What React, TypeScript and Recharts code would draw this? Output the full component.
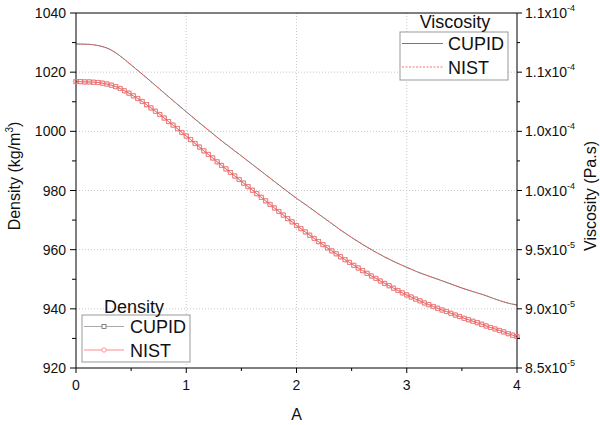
import React from "react";
import { LineChart, Line, XAxis, YAxis, CartesianGrid, ReferenceLine, Label } from "recharts";

const FONT = "'Liberation Sans', Arial, sans-serif";

// density curve (left axis), sampled densely -> markers
const densityA = [
    0, 0.04, 0.08, 0.12, 0.16, 0.2, 0.24, 0.28, 0.32, 0.36,
    0.4, 0.44, 0.48, 0.52, 0.56, 0.6, 0.64, 0.68, 0.72, 0.76,
    0.8, 0.84, 0.88, 0.92, 0.96, 1, 1.04, 1.08, 1.12, 1.16,
    1.2, 1.24, 1.28, 1.32, 1.36, 1.4, 1.44, 1.48, 1.52, 1.56,
    1.6, 1.64, 1.68, 1.72, 1.76, 1.8, 1.84, 1.88, 1.92, 1.96,
    2, 2.04, 2.08, 2.12, 2.16, 2.2, 2.24, 2.28, 2.32, 2.36,
    2.4, 2.44, 2.48, 2.52, 2.56, 2.6, 2.64, 2.68, 2.72, 2.76,
    2.8, 2.84, 2.88, 2.92, 2.96, 3, 3.04, 3.08, 3.12, 3.16,
    3.2, 3.24, 3.28, 3.32, 3.36, 3.4, 3.44, 3.48, 3.52, 3.56,
    3.6, 3.64, 3.68, 3.72, 3.76, 3.8, 3.84, 3.88, 3.92, 3.96,
    4,
];
const densityCupid = [
    1016.8, 1016.8, 1016.7, 1016.7, 1016.6, 1016.5, 1016.3, 1016.0, 1015.6, 1015.1,
    1014.5, 1013.7, 1012.9, 1012.0, 1011.1, 1010.1, 1009.0, 1007.9, 1006.8, 1005.7,
    1004.5, 1003.3, 1002.1, 1000.9, 999.6, 998.4, 997.2, 995.9, 994.7, 993.4,
    992.2, 991.0, 989.7, 988.5, 987.3, 986.1, 984.9, 983.7, 982.5, 981.3,
    980.1, 978.9, 977.7, 976.5, 975.3, 974.1, 972.9, 971.7, 970.5, 969.4,
    968.2, 967.1, 966.0, 964.9, 963.8, 962.7, 961.7, 960.6, 959.6, 958.6,
    957.6, 956.6, 955.7, 954.7, 953.8, 952.9, 952.0, 951.1, 950.3, 949.4,
    948.6, 947.8, 947.0, 946.2, 945.4, 944.7, 944.0, 943.3, 942.7, 942.0,
    941.4, 940.8, 940.2, 939.6, 939.1, 938.5, 937.9, 937.4, 936.8, 936.3,
    935.8, 935.3, 934.8, 934.2, 933.7, 933.2, 932.7, 932.2, 931.6, 931.1,
    930.6,
];
// NIST density sits right on top of CUPID in the plot
const densityNist = densityCupid;

// viscosity curve (right axis)
const viscosityA = [
    0, 0.1, 0.2, 0.3, 0.4, 0.5, 0.6, 0.7, 0.8, 0.9,
    1, 1.1, 1.2, 1.3, 1.4, 1.5, 1.6, 1.7, 1.8, 1.9,
    2, 2.1, 2.2, 2.3, 2.4, 2.5, 2.6, 2.7, 2.8, 2.9,
    3, 3.1, 3.2, 3.3, 3.4, 3.5, 3.6, 3.7, 3.8, 3.9,
    4,
];
const viscosityCupid = [
    11.238e-5, 11.236e-5, 11.225e-5, 11.196e-5, 11.137e-5, 11.061e-5, 10.984e-5, 10.904e-5, 10.824e-5, 10.744e-5,
    10.665e-5, 10.587e-5, 10.511e-5, 10.435e-5, 10.363e-5, 10.292e-5, 10.22e-5, 10.148e-5, 10.076e-5, 10.004e-5,
    9.934e-5, 9.869e-5, 9.801e-5, 9.734e-5, 9.666e-5, 9.603e-5, 9.544e-5, 9.489e-5, 9.438e-5, 9.392e-5,
    9.351e-5, 9.311e-5, 9.277e-5, 9.244e-5, 9.21e-5, 9.176e-5, 9.146e-5, 9.117e-5, 9.083e-5, 9.053e-5,
    9.032e-5,
];
const viscosityNist = viscosityCupid;

// ticks: majors on even indices, minors in between
const xTicks = [0, 0.5, 1, 1.5, 2, 2.5, 3, 3.5, 4];
const densityTicks = [920, 930, 940, 950, 960, 970, 980, 990, 1000, 1010, 1020, 1030, 1040];
const viscosityTicks = [
    8.5e-5, 8.75e-5, 9e-5, 9.25e-5, 9.5e-5, 9.75e-5, 1e-4,
    1.025e-4, 1.05e-4, 1.075e-4, 1.1e-4, 1.125e-4, 1.15e-4,
];
const viscosityTickText = ["8.5x10", "9.0x10", "9.5x10", "1.0x10", "1.0x10", "1.1x10", "1.1x10"];
const viscosityTickExp = ["-5", "-5", "-5", "-4", "-4", "-4", "-4"];

const densityData = densityA.map((a, i) => ({ a, cupid: densityCupid[i], nist: densityNist[i] }));
const viscosityData = viscosityA.map((a, i) => ({ a, cupid: viscosityCupid[i], nist: viscosityNist[i] }));

function BottomTick({ x, y, payload, index }: any) {
    const major = index % 2 === 0;
    return (
        <g>
            <line x1={x} x2={x} y1={y} y2={y + (major ? 5 : 3)} stroke="#000" />
            {major && (
                <text x={x} y={y + 22} textAnchor="middle" fontSize={14} fontFamily={FONT} fill="#111">
                    {payload.value}
                </text>
            )}
        </g>
    );
}

function LeftTick({ x, y, payload, index }: any) {
    const major = index % 2 === 0;
    return (
        <g>
            <line x1={x - (major ? 6 : 4)} x2={x} y1={y} y2={y} stroke="#000" />
            {major && (
                <text x={x - 10} y={y + 5} textAnchor="end" fontSize={14} fontFamily={FONT} fill="#111">
                    {payload.value}
                </text>
            )}
        </g>
    );
}

function RightTick({ x, y, index }: any) {
    const major = index % 2 === 0;
    const k = index / 2;
    return (
        <g>
            <line x1={x} x2={x + (major ? 5 : 3)} y1={y} y2={y} stroke="#000" />
            {major && (
                <text x={x + 8} y={y + 5} fontSize={14} fontFamily={FONT} fill="#111">
                    {viscosityTickText[k]}
                    <tspan dy={-7} fontSize={9}>{viscosityTickExp[k]}</tspan>
                </text>
            )}
        </g>
    );
}

function DensityTitle({ viewBox }: any) {
    const x = viewBox.x + 20;
    const y = 176;
    return (
        <text transform={`translate(${x},${y}) rotate(-90)`} textAnchor="middle" fontSize={16} fontFamily={FONT} fill="#111">
            Density (kg/m<tspan dy={-7} fontSize={10}>3</tspan><tspan dy={7}>)</tspan>
        </text>
    );
}

function ViscosityTitle({ viewBox }: any) {
    const x = viewBox.x + 79;
    const y = 196;
    return (
        <text transform={`translate(${x},${y}) rotate(-90)`} textAnchor="middle" fontSize={16} fontFamily={FONT} fill="#111">
            Viscosity (Pa.s)
        </text>
    );
}

function ATitle({ viewBox }: any) {
    return (
        <text x={viewBox.x + viewBox.width / 2} y={420} textAnchor="middle" fontSize={16} fontFamily={FONT} fill="#111">
            A
        </text>
    );
}

function SquareDot({ cx, cy }: any) {
    if (cx == null || cy == null) return null;
    return <rect x={cx - 2.1} y={cy - 2.1} width={4.2} height={4.2} fill="none" stroke="#c83c3c" strokeOpacity={0.75} strokeWidth={0.7} />;
}

function CircleDot({ cx, cy }: any) {
    if (cx == null || cy == null) return null;
    return <circle cx={cx} cy={cy} r={2.3} fill="none" stroke="#ff7a7a" strokeWidth={0.8} />;
}

function Legends() {
    return (
        <svg width={600} height={425} style={{ position: "absolute", left: 0, top: 0, pointerEvents: "none" }}>
            <g fontFamily={FONT} fontSize={18} fill="#111">
                {/* viscosity legend */}
                <rect x={400} y={32} width={108} height={48} fill="#fff" stroke="#999" />
                <text x={455} y={28} textAnchor="middle">Viscosity</text>
                <line x1={402} x2={443} y1={43.5} y2={43.5} stroke="#777" />
                <text x={448} y={50}>CUPID</text>
                <line x1={402} x2={443} y1={67} y2={67} stroke="#ff7070" strokeDasharray="2 1.5" />
                <text x={448} y={74}>NIST</text>

                {/* density legend */}
                <rect x={82} y={315} width={108} height={47} fill="#fff" stroke="#999" />
                <text x={134} y={313} textAnchor="middle">Density</text>
                <line x1={84} x2={124} y1={326.5} y2={326.5} stroke="#aaa" />
                <rect x={102} y={324.5} width={4} height={4} fill="#fff" stroke="#666" strokeWidth={0.8} />
                <text x={130} y={333}>CUPID</text>
                <line x1={84} x2={124} y1={350} y2={350} stroke="#ff8a8a" />
                <circle cx={104} cy={350} r={2.2} fill="#fff" stroke="#ff8a8a" strokeWidth={0.9} />
                <text x={130} y={357}>NIST</text>
            </g>
        </svg>
    );
}

export default function App() {
    return (
        <div style={{ position: "absolute", left: 0, top: 0, width: 600, height: 425, background: "#fff" }}>
            <LineChart width={600} height={425} margin={{ top: 13, right: 0, bottom: 0, left: 0 }}>
                <CartesianGrid
                    yAxisId="left"
                    stroke="#c8c8c8"
                    strokeDasharray="1 2"
                    horizontalValues={[940, 960, 980, 1000, 1020]}
                    verticalValues={[1, 2, 3]}
                />
                <XAxis
                    type="number"
                    dataKey="a"
                    domain={[0, 4]}
                    ticks={xTicks}
                    interval={0}
                    height={57}
                    tickSize={0}
                    tickMargin={0}
                    tickLine={false}
                    axisLine={{ stroke: "#000" }}
                    tick={<BottomTick />}
                >
                    <Label content={<ATitle />} />
                </XAxis>
                <YAxis
                    yAxisId="left"
                    type="number"
                    domain={[920, 1040]}
                    ticks={densityTicks}
                    interval={0}
                    width={76}
                    tickSize={0}
                    tickMargin={0}
                    tickLine={false}
                    axisLine={{ stroke: "#000" }}
                    tick={<LeftTick />}
                >
                    <Label content={<DensityTitle />} />
                </YAxis>
                <YAxis
                    yAxisId="right"
                    orientation="right"
                    type="number"
                    domain={[8.5e-5, 1.15e-4]}
                    ticks={viscosityTicks}
                    interval={0}
                    width={83}
                    tickSize={0}
                    tickMargin={0}
                    tickLine={false}
                    axisLine={{ stroke: "#000" }}
                    tick={<RightTick />}
                >
                    <Label content={<ViscosityTitle />} />
                </YAxis>
                <ReferenceLine yAxisId="left" y={1040} stroke="#000" />

                <Line
                    data={viscosityData}
                    yAxisId="right"
                    dataKey="cupid"
                    type="monotone"
                    stroke="#777"
                    strokeWidth={1}
                    dot={false}
                    isAnimationActive={false}
                />
                <Line
                    data={viscosityData}
                    yAxisId="right"
                    dataKey="nist"
                    type="monotone"
                    stroke="#ff6060"
                    strokeWidth={1}
                    strokeDasharray="1.5 1.5"
                    dot={false}
                    isAnimationActive={false}
                />
                <Line
                    data={densityData}
                    yAxisId="left"
                    dataKey="cupid"
                    type="monotone"
                    stroke="#8a5050"
                    strokeWidth={0.8}
                    dot={(p: any) => <SquareDot key={`s${p.index}`} cx={p.cx} cy={p.cy} />}
                    isAnimationActive={false}
                />
                <Line
                    data={densityData}
                    yAxisId="left"
                    dataKey="nist"
                    type="monotone"
                    stroke="#ff7a7a"
                    strokeWidth={0.6}
                    dot={(p: any) => <CircleDot key={`c${p.index}`} cx={p.cx} cy={p.cy} />}
                    isAnimationActive={false}
                />
            </LineChart>
            <Legends />
        </div>
    );
}
